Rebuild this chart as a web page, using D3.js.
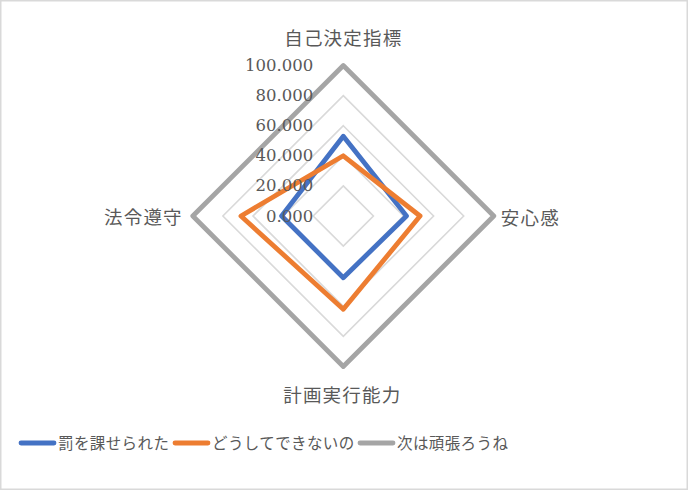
<!DOCTYPE html>
<html>
<head>
<meta charset="utf-8">
<script src="https://cdn.jsdelivr.net/npm/d3@7"></script>
<style>
html,body{margin:0;padding:0;background:#fff;}
svg{display:block;}
</style>
</head>
<body>
<svg id="chart" width="688" height="490"></svg>
<script>
const categories = ["自己決定指標", "安心感", "計画実行能力", "法令遵守"];
const seriesNames = ["罰を課せられた", "どうしてできないの", "次は頑張ろうね"];
const seriesPunished = [53, 42, 41, 41];
const seriesWhyNot = [40, 51, 62, 68];
const seriesNextTime = [100, 100, 100, 100];
const tickValues = [0, 20, 40, 60, 80, 100];
const colors = ["#4472C4", "#ED7D31", "#A5A5A5"];

const seriesList = [seriesPunished, seriesWhyNot, seriesNextTime];

const svg = d3.select("#chart");
const W = 688, H = 490;
const cx = 343.3, cy = 216;
const R = 150.5;
const jpFont = "'Noto Sans CJK JP','Noto Sans',sans-serif";
const numFont = "'DejaVu Serif',serif";
const textColor = "#595959";

svg.append("rect").attr("x", 0.75).attr("y", 0.75).attr("width", W - 1.5).attr("height", H - 1.5)
  .attr("fill", "#fff").attr("stroke", "#d9d9d9").attr("stroke-width", 1.5);

const r = d3.scaleLinear().domain([0, 100]).range([0, R]);
const angle = d3.scalePoint().domain(d3.range(categories.length)).range([0, 2 * Math.PI * (categories.length - 1) / categories.length]);

const g = svg.append("g").attr("transform", `translate(${cx},${cy})`);

// grid rings
const ringLine = d3.lineRadial().angle((d, i) => angle(i)).radius(d => r(d)).curve(d3.curveLinearClosed);
tickValues.filter(t => t > 0).forEach(t => {
  g.append("path").attr("d", ringLine(categories.map(() => t)))
    .attr("fill", "none").attr("stroke", "#d9d9d9").attr("stroke-width", 1.6);
});

// series
const seriesLine = d3.lineRadial().angle((d, i) => angle(i)).radius(d => r(d)).curve(d3.curveLinearClosed);
seriesList.forEach((s, k) => {
  g.append("path").attr("d", seriesLine(s))
    .attr("fill", "none").attr("stroke", colors[k]).attr("stroke-width", 4.8)
    .attr("stroke-linejoin", "round");
});

// tick labels
g.selectAll("text.tick").data(tickValues).enter().append("text")
  .attr("class", "tick")
  .attr("x", -30).attr("y", d => -r(d))
  .attr("text-anchor", "end").attr("dominant-baseline", "central")
  .attr("font-family", numFont).attr("font-size", 16.5).attr("fill", textColor)
  .text(d => d3.format(".3f")(d));

// category labels
const catPos = [
  {x: 0, y: -R - 29, anchor: "middle"},
  {x: R + 7, y: 0.5, anchor: "start"},
  {x: -1, y: R + 27, anchor: "middle"},
  {x: -R - 10, y: -0.5, anchor: "end"}
];
categories.forEach((c, i) => {
  g.append("text").attr("x", catPos[i].x).attr("y", catPos[i].y)
    .attr("text-anchor", catPos[i].anchor).attr("dominant-baseline", "central")
    .attr("font-family", jpFont).attr("font-size", 18.5).attr("letter-spacing", 1.2).attr("fill", textColor)
    .text(c);
});

// legend
const legendX = [19, 173, 358];
const legend = svg.append("g");
seriesNames.forEach((n, k) => {
  legend.append("line").attr("x1", legendX[k] + 2).attr("x2", legendX[k] + 35)
    .attr("y1", 443).attr("y2", 443)
    .attr("stroke", colors[k]).attr("stroke-width", 4.8).attr("stroke-linecap", "round");
  legend.append("text").attr("x", legendX[k] + 39).attr("y", 442)
    .attr("dominant-baseline", "central")
    .attr("font-family", jpFont).attr("font-size", 15.5).attr("letter-spacing", 0.4).attr("fill", textColor)
    .text(n);
});
</script>
</body>
</html>
